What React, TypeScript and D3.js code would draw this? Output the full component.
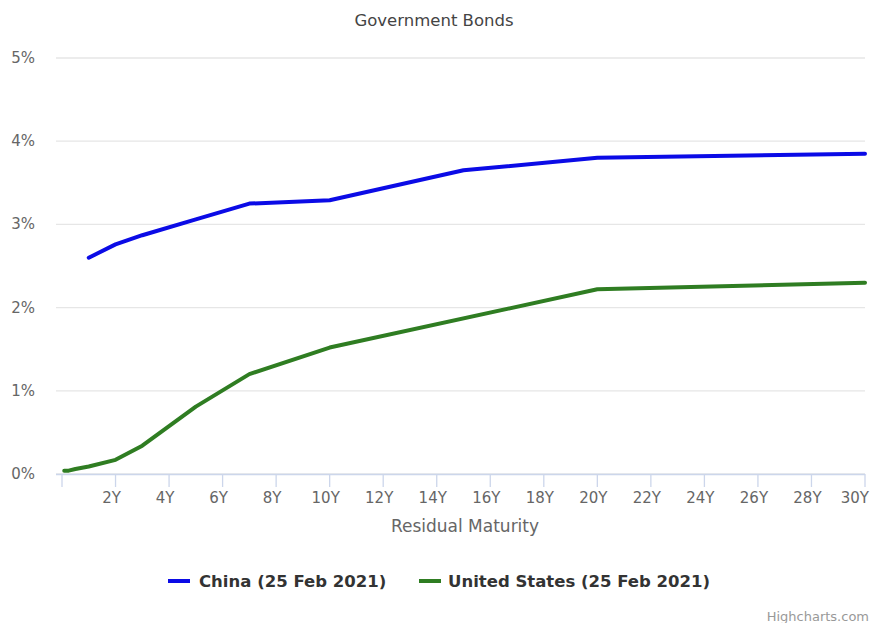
import React from "react";
import * as d3 from "d3";

const usTenors = [1 / 12, 0.25, 0.5, 1, 2, 3, 5, 7, 10, 20, 30];
const usYields = [0.04, 0.04, 0.06, 0.09, 0.17, 0.34, 0.81, 1.2, 1.52, 2.22, 2.3];
const cnTenors = [1, 2, 3, 5, 7, 10, 15, 20, 30];
const cnYields = [2.6, 2.76, 2.87, 3.06, 3.25, 3.29, 3.65, 3.8, 3.85];
const xTicks = [0, 2, 4, 6, 8, 10, 12, 14, 16, 18, 20, 22, 24, 26, 28, 30];
const yTicks = [0, 1, 2, 3, 4, 5];
const seriesNames = ["China (25 Feb 2021)", "United States (25 Feb 2021)"];

const W = 873;
const H = 623;
const FONT = "'DejaVu Sans', sans-serif";

export default function App() {
  const x = d3.scaleLinear().domain([0, 30]).range([62, 865]);
  const y = d3.scaleLinear().domain([0, 5]).range([474, 58]);
  const line = d3
    .line<[number, number]>()
    .x((d) => x(d[0]))
    .y((d) => y(d[1]))
    .curve(d3.curveLinear);
  const cn = cnTenors.map((t, i) => [t, cnYields[i]] as [number, number]);
  const us = usTenors.map((t, i) => [t, usYields[i]] as [number, number]);
  const colors = ["#0b0be6", "#2f7d22"];
  const lastTick = xTicks[xTicks.length - 1];

  return (
    <svg
      width={W}
      height={H}
      style={{ position: "absolute", left: 0, top: 0, background: "#fff" }}
      fontFamily={FONT}
    >
      <text x={434} y={26} textAnchor="middle" fontSize={16.5} fill="#444">
        Government Bonds
      </text>
      {yTicks.map((t) => (
        <g key={t}>
          <line x1={56} x2={865} y1={y(t)} y2={y(t)} stroke="#e6e6e6" strokeWidth={1.3} />
          <text x={35} y={y(t) + 5} textAnchor="end" fontSize={15} fill="#666">
            {t}%
          </text>
        </g>
      ))}
      <line x1={56} x2={865} y1={y(0) + 0.5} y2={y(0) + 0.5} stroke="#ccd6eb" strokeWidth={1.3} />
      {xTicks.map((t) => (
        <g key={t}>
          <line x1={x(t)} x2={x(t)} y1={y(0)} y2={y(0) + 13} stroke="#ccd6eb" strokeWidth={1.3} />
          {t > 0 && (
            <text
              x={t === lastTick ? 869 : x(t) - 4}
              y={503}
              textAnchor={t === lastTick ? "end" : "middle"}
              fontSize={15}
              fill="#666"
            >
              {t}Y
            </text>
          )}
        </g>
      ))}
      <text x={465} y={532} textAnchor="middle" fontSize={17} fill="#666">
        Residual Maturity
      </text>
      <path d={line(cn) || ""} fill="none" stroke={colors[0]} strokeWidth={4} strokeLinejoin="round" strokeLinecap="round" />
      <path d={line(us) || ""} fill="none" stroke={colors[1]} strokeWidth={4} strokeLinejoin="round" strokeLinecap="round" />
      <g>
        <line x1={168} x2={190} y1={581} y2={581} stroke={colors[0]} strokeWidth={4} />
        <text x={199} y={587} fontSize={16.5} fontWeight="bold" fill="#333">
          {seriesNames[0]}
        </text>
        <line x1={419} x2={441} y1={581} y2={581} stroke={colors[1]} strokeWidth={4} />
        <text x={448} y={587} fontSize={16.5} fontWeight="bold" fill="#333">
          {seriesNames[1]}
        </text>
      </g>
      <text x={869} y={621} textAnchor="end" fontSize={13} fill="#999">
        Highcharts.com
      </text>
    </svg>
  );
}
